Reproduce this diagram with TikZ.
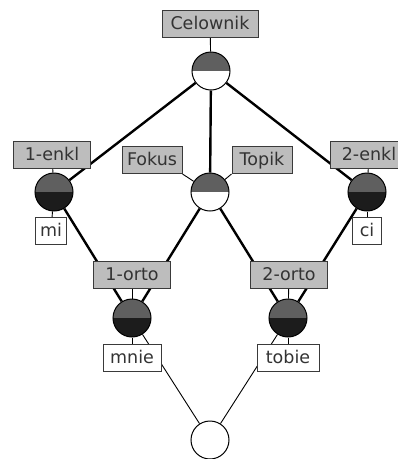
\documentclass[tikz,border=0pt]{standalone}
\usepackage{fontspec}
\setmainfont{DejaVu Sans}
\usetikzlibrary{positioning}

\definecolor{attrgray}{HTML}{BDBDBD}
\definecolor{boxline}{HTML}{3A3A3A}
\definecolor{upper}{HTML}{5F5F5F}
\definecolor{lower}{HTML}{1C1C1C}

\begin{document}
\begin{tikzpicture}[x=1pt, y=-1pt,
        font=\fontsize{17.5}{20}\selectfont, text=black!80,
        attr/.style={draw=boxline, fill=attrgray, line width=1pt, inner xsep=4pt,
            minimum height=27pt, text height=13pt, text depth=3pt},
        obj/.style={attr, fill=white},
        concept/.style 2 args={circle, draw=black, line width=1pt, minimum size=38pt,
            inner sep=0pt, path picture={
                \fill[#1] (path picture bounding box.north west) rectangle (path picture bounding box.east);
                \fill[#2] (path picture bounding box.west) rectangle (path picture bounding box.south east);}},
        bond/.style={line width=2.4pt},
        link/.style={line width=0.9pt},
        tick/.style={line width=0.9pt}]
    \clip (0,0) rectangle (398,459);
    \useasboundingbox (0,0) rectangle (398,459);

    % concepts of the lattice
    \node[concept={upper}{white}] (top)   at (211,71)  {};
    \node[concept={upper}{lower}] (enkl1) at (54,192)  {};
    \node[concept={upper}{white}] (mid)   at (210,192) {};
    \node[concept={upper}{lower}] (enkl2) at (367,192) {};
    \node[concept={upper}{lower}] (orto1) at (132,318) {};
    \node[concept={upper}{lower}] (orto2) at (288,318) {};
    \node[concept={white}{white}] (bot)   at (210,440) {};

    % edges
    \draw[bond] (top) -- (enkl1);
    \draw[bond] (top) -- (mid);
    \draw[bond] (top) -- (enkl2);
    \draw[bond] (enkl1) -- (orto1);
    \draw[bond] (mid) -- (orto1);
    \draw[bond] (mid) -- (orto2);
    \draw[bond] (enkl2) -- (orto2);
    \draw[link] (orto1) -- (bot);
    \draw[link] (orto2) -- (bot);

    % attribute labels
    \node[attr, minimum width=96pt] (celownik) at (210,24)  {Celownik};
    \node[attr, minimum width=77pt] (l-enkl1)  at (52,155)  {1-enkl};
    \node[attr, minimum width=60pt] (fokus)    at (152,160) {Fokus};
    \node[attr, minimum width=60pt] (topik)    at (262,160) {Topik};
    \node[attr, minimum width=77pt] (l-enkl2)  at (369,155) {2-enkl};
    \node[attr, minimum width=77pt] (l-orto1)  at (132,275) {1-orto};
    \node[attr, minimum width=77pt] (l-orto2)  at (289,275) {2-orto};

    % object labels
    \node[obj, minimum width=31pt] (mi)    at (51,231)  {mi};
    \node[obj, minimum width=29pt] (ci)    at (367,231) {ci};
    \node[obj, minimum width=58pt] (mnie)  at (132,358) {mnie};
    \node[obj, minimum width=62pt] (tobie) at (288,358) {tobie};

    % label ticks
    \draw[tick] (celownik) -- (top);
    \draw[tick] (l-enkl1) -- (enkl1);
    \draw[tick] (l-enkl2) -- (enkl2);
    \draw[tick] (fokus.south east) -- (mid);
    \draw[tick] (topik.south west) -- (mid);
    \draw[tick] (l-orto1) -- (orto1);
    \draw[tick] (l-orto2) -- (orto2);
    \draw[tick] (enkl1) -- (mi);
    \draw[tick] (enkl2) -- (ci);
    \draw[tick] (orto1) -- (mnie);
    \draw[tick] (orto2) -- (tobie);
\end{tikzpicture}
\end{document}
